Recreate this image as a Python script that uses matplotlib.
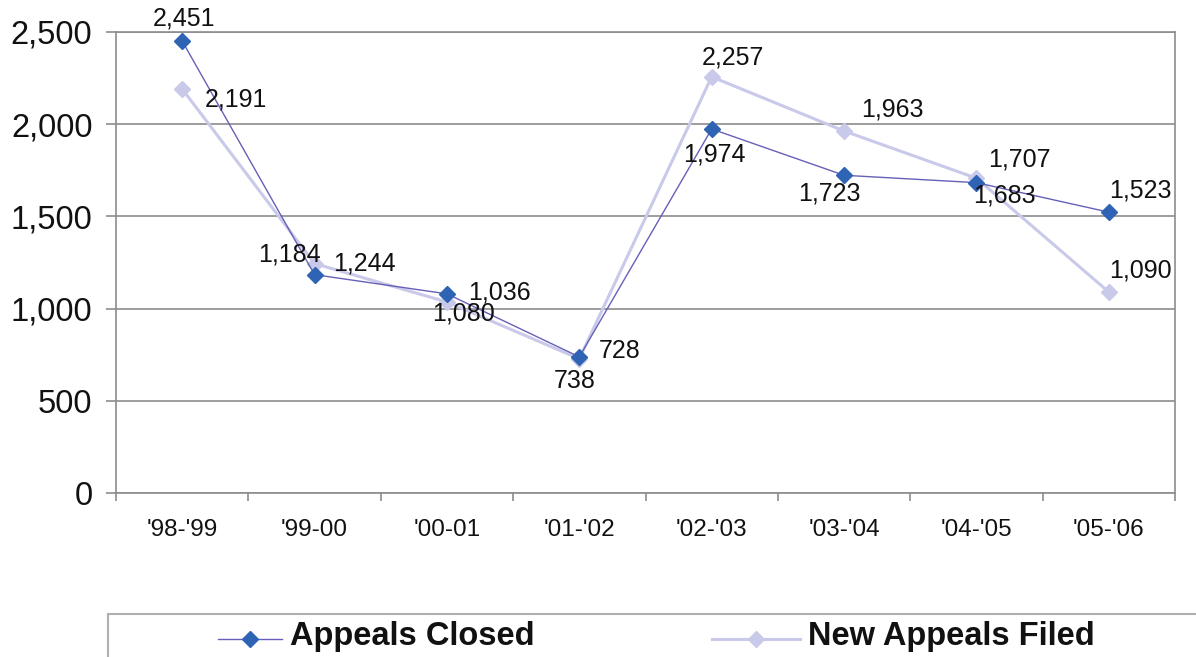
import matplotlib
matplotlib.use("Agg")
import matplotlib.pyplot as plt
from matplotlib.lines import Line2D
from matplotlib.patches import Rectangle
from matplotlib import font_manager

categories = ["'98-'99", "'99-00", "'00-01", "'01-'02", "'02-'03", "'03-'04", "'04-'05", "'05-'06"]
appeals_closed = [2451, 1184, 1080, 738, 1974, 1723, 1683, 1523]
new_appeals_filed = [2191, 1244, 1036, 728, 2257, 1963, 1707, 1090]
y_ticks = [0, 500, 1000, 1500, 2000, 2500]

# label offsets in pixels (dx, dy) for each point
closed_offsets = [(2, 23), (-25, 20), (17, -20), (-5, -24), (3, -26), (-15, -18), (28, -13), (32, 22)]
filed_offsets = [(54, -11), (50, 0), (52, 9), (40, 8), (21, 19), (48, 22), (43, 19), (32, 22)]

names = {f.name for f in font_manager.fontManager.ttflist}
base_font = "Liberation Sans" if "Liberation Sans" in names else "DejaVu Sans"
legend_font = "Liberation Sans Narrow" if "Liberation Sans Narrow" in names else base_font
plt.rcParams['font.family'] = [base_font, 'DejaVu Sans']

W, H = 1196, 657
fig = plt.figure(figsize=(W / 100, H / 100), dpi=100)
ax = fig.add_axes([116 / W, 1 - 493 / H, (1175 - 116) / W, (493 - 32) / H])

closed_color = '#2f63b3'
closed_line = '#6660b8'
filed_color = '#c9c9ea'
grid_color = '#8c8c8c'

x = list(range(len(categories)))
ax.plot(x, new_appeals_filed, color=filed_color, lw=2.2, marker='D', ms=8,
        markerfacecolor=filed_color, markeredgecolor=filed_color, zorder=3)
ax.plot(x, appeals_closed, color=closed_line, lw=1.0, marker='D', ms=8,
        markerfacecolor=closed_color, markeredgecolor=closed_color, zorder=4)

for xi, v, off in zip(x, appeals_closed, closed_offsets):
    ax.annotate(f"{v:,}", (xi, v), xytext=off, textcoords='offset pixels',
                ha='center', va='center', fontsize=18, color='#111111', zorder=5)
for xi, v, off in zip(x, new_appeals_filed, filed_offsets):
    ax.annotate(f"{v:,}", (xi, v), xytext=off, textcoords='offset pixels',
                ha='center', va='center', fontsize=18, color='#111111', zorder=5)

ax.set_xlim(-0.5, len(categories) - 0.5)
ax.set_ylim(0, 2500)
ax.set_yticks(y_ticks)
ax.set_yticklabels([f"{t:,}" for t in y_ticks], fontsize=23.5, color='#111111')
ax.set_xticks(x)
ax.set_xticklabels(categories, fontsize=17.5, color='#111111')
ax.tick_params(axis='x', length=0, pad=19)
ax.set_xticks([i - 0.5 for i in range(len(categories) + 1)], minor=True)
ax.tick_params(axis='x', which='minor', length=6, color=grid_color, width=1.2, direction='out')
ax.tick_params(axis='y', length=7, color=grid_color, width=1.2, direction='out', pad=10)
ax.yaxis.grid(True, color=grid_color, lw=1.2)
ax.set_axisbelow(True)
for s in ['left', 'bottom', 'right', 'top']:
    ax.spines[s].set_color(grid_color)
    ax.spines[s].set_linewidth(1.2)

# Legend box (cut off at bottom like the reference)
fig.patches.append(Rectangle((108 / W, -0.05), 1.2, (1 - 614 / H) + 0.05,
                             transform=fig.transFigure, facecolor='white',
                             edgecolor='#b0b0b0', lw=1.5, clip_on=False))
ly = 1 - 639 / H
fig.lines.append(Line2D([218 / W, 282 / W], [ly, ly], transform=fig.transFigure,
                        color=closed_line, lw=1.0))
fig.lines.append(Line2D([250 / W], [ly], transform=fig.transFigure, marker='D', ms=8,
                        color=closed_color, lw=0))
fig.text(290 / W, 1 - 637 / H, "Appeals Closed", fontsize=23.5, fontweight='bold',
         family=[legend_font, 'DejaVu Sans'], va='center', ha='left', color='#111111')
fig.lines.append(Line2D([712 / W, 800 / W], [ly, ly], transform=fig.transFigure,
                        color=filed_color, lw=2.2))
fig.lines.append(Line2D([756 / W], [ly], transform=fig.transFigure, marker='D', ms=8,
                        color=filed_color, lw=0))
fig.text(808 / W, 1 - 637 / H, "New Appeals Filed", fontsize=23.5, fontweight='bold',
         family=[legend_font, 'DejaVu Sans'], va='center', ha='left', color='#111111')

fig.savefig("out.png", dpi=100)
